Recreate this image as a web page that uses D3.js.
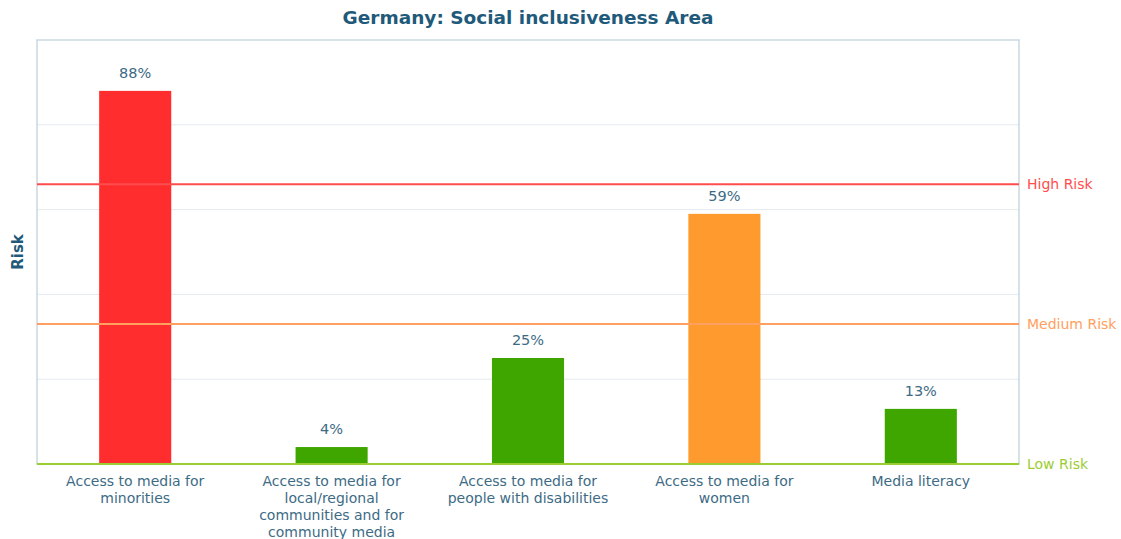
<!DOCTYPE html>
<html>
<head>
<meta charset="utf-8">
<script src="https://cdn.jsdelivr.net/npm/d3@7"></script>
<style>
  html, body { margin: 0; padding: 0; background: #fff; }
  svg { display: block; }
</style>
</head>
<body>
<svg id="chart" width="1121" height="539" font-family="DejaVu Sans"></svg>
<script>
// Indicator names (each entry is a list of wrapped label lines)
const categories = [
  ["Access to media for", "minorities"],
  ["Access to media for", "local/regional", "communities and for", "community media"],
  ["Access to media for", "people with disabilities"],
  ["Access to media for", "women"],
  ["Media literacy"]
];
const values = [88, 4, 25, 59, 13];
const barColors = ["#ff2d2d", "#3fa600", "#3fa600", "#ff9a2e", "#3fa600"];

const thresholdLabels = ["Low Risk", "Medium Risk", "High Risk"];
const thresholdValues = [0, 33, 66];
const thresholdColors = ["#9acd32", "#ffa060", "#ff4d4d"];

const gridValues = [20, 40, 60, 80];

const FONT = "DejaVu Sans";
const svg = d3.select("#chart");
const margin = { left: 37, right: 102, top: 40, bottom: 75 };
const W = 1121, H = 539;
const x0 = margin.left, x1 = W - margin.right;
const y0 = H - margin.bottom, y1 = margin.top;

const x = d3.scaleBand().domain(d3.range(categories.length)).range([x0, x1]).padding(0);
const y = d3.scaleLinear().domain([0, 100]).range([y0, y1]);
const barW = x.bandwidth() * 0.367;

const textColor = "#3d6b85";

// Gridlines
svg.append("g").selectAll("line").data(gridValues).join("line")
  .attr("x1", x0).attr("x2", x1)
  .attr("y1", d => y(d)).attr("y2", d => y(d))
  .attr("stroke", "#e4eaef").attr("stroke-width", 1);

// Plot frame
svg.append("rect")
  .attr("x", x0).attr("y", y1)
  .attr("width", x1 - x0).attr("height", y0 - y1)
  .attr("fill", "none").attr("stroke", "#c9d7e1").attr("stroke-width", 1.5);

// Bars
svg.append("g").selectAll("rect").data(values).join("rect")
  .attr("x", (d, i) => x(i) + (x.bandwidth() - barW) / 2)
  .attr("y", d => y(d))
  .attr("width", barW)
  .attr("height", d => y(0) - y(d))
  .attr("fill", (d, i) => barColors[i]);

// Value labels
svg.append("g").selectAll("text").data(values).join("text")
  .attr("x", (d, i) => x(i) + x.bandwidth() / 2)
  .attr("y", d => y(d) - 13)
  .attr("text-anchor", "middle")
  .attr("font-family", FONT)
  .attr("font-size", 14.5)
  .attr("fill", textColor)
  .text(d => d + "%");

// Risk threshold lines and labels
const th = svg.append("g");
thresholdValues.forEach((v, i) => {
  th.append("line")
    .attr("x1", x0).attr("x2", x1)
    .attr("y1", y(v)).attr("y2", y(v))
    .attr("stroke", thresholdColors[i]).attr("stroke-width", 2);
  th.append("text")
    .attr("x", x1 + 8).attr("y", y(v))
    .attr("dy", "0.35em")
    .attr("font-family", FONT)
    .attr("font-size", 14)
    .attr("fill", thresholdColors[i])
    .text(thresholdLabels[i]);
});

// Category axis labels
const xAxis = d3.axisBottom(x).tickSize(0).tickFormat(() => "");
const gx = svg.append("g").attr("transform", `translate(0,${y0})`).call(xAxis)
  .attr("font-family", FONT);
gx.select(".domain").remove();
gx.selectAll(".tick").append("text")
  .attr("text-anchor", "middle")
  .attr("font-family", FONT)
  .attr("font-size", 14)
  .attr("fill", textColor)
  .each(function(d) {
    const t = d3.select(this);
    categories[d].forEach((line, j) => {
      t.append("tspan").attr("x", 0).attr("y", 22 + j * 17).text(line);
    });
  });

// Title
svg.append("text")
  .attr("x", (x0 + x1) / 2).attr("y", 24)
  .attr("text-anchor", "middle")
  .attr("font-family", FONT)
  .attr("font-size", 18.5).attr("font-weight", "bold")
  .attr("fill", "#1f5a7a")
  .text("Germany: Social inclusiveness Area");

// Y axis title
svg.append("text")
  .attr("transform", `translate(23,${(y0 + y1) / 2}) rotate(-90)`)
  .attr("text-anchor", "middle")
  .attr("font-family", FONT)
  .attr("font-size", 15).attr("font-weight", "bold")
  .attr("fill", "#1f5a7a")
  .text("Risk");
</script>
</body>
</html>
